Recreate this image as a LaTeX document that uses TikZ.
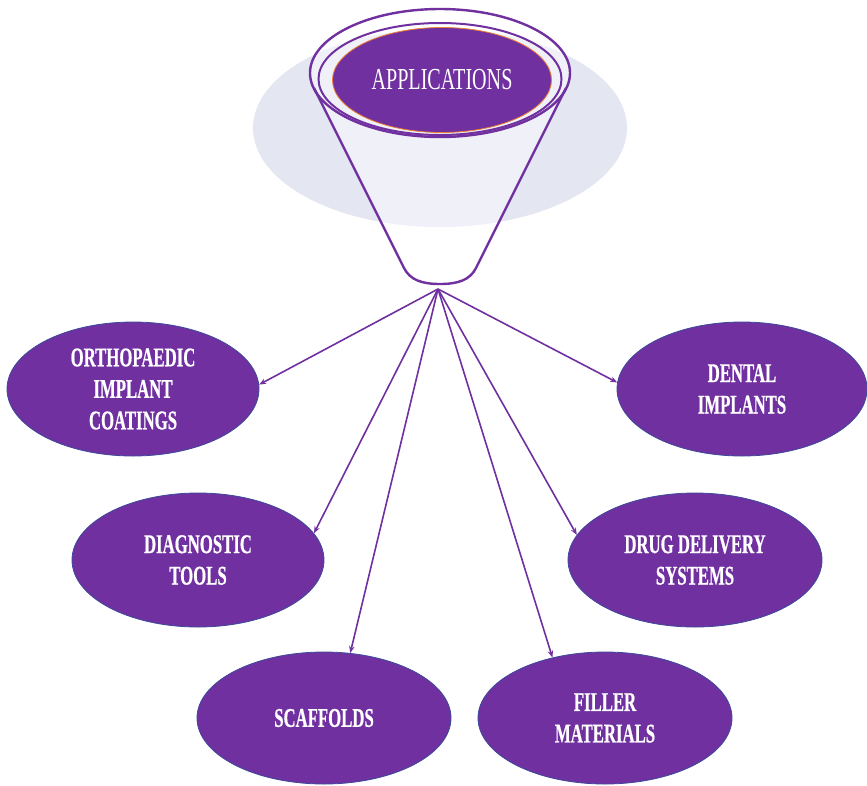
\documentclass[tikz,border=0pt]{standalone}
\usepackage{fontspec}
\newfontfamily\labfont[FakeStretch=0.62,FakeBold=0.6]{Liberation Serif Bold}
\newfontfamily\appfont[FakeStretch=0.66]{Liberation Serif}
\usetikzlibrary{shapes.geometric,arrows.meta}
\definecolor{purp}{HTML}{7030A0}
\definecolor{bgel}{HTML}{E4E6F2}
\definecolor{funl}{HTML}{EFF0F8}
\definecolor{edgeblue}{HTML}{3C4A9A}
\definecolor{orng}{HTML}{ED7D31}
\begin{document}
\begin{tikzpicture}[x=1pt,y=-1pt,
  appbox/.style={ellipse, fill=purp, draw=edgeblue, line width=0.8pt, inner sep=0pt,
    text=white, align=center, font=\labfont\fontsize{27}{31.5}\selectfont,
    minimum width=252pt, minimum height=134pt},
  conn/.style={draw=purp, line width=1.6pt, -{Stealth[length=7pt,width=5.5pt]}},
  funline/.style={draw=purp, line width=2.4pt}]
\useasboundingbox (0,0) rectangle (867,785);
% background ellipse
\fill[bgel] (440,128) ellipse [x radius=187, y radius=99];
% funnel body fill
\fill[white] (314,88) -- (404,268) .. controls (410,280) and (422,284) .. (440,284)
  .. controls (458,284) and (470,280) .. (476,268) -- (566,88) -- cycle;
\fill[white] (440,73) ellipse [x radius=130, y radius=64];
\begin{scope}
  \clip (314,88) -- (404,268) .. controls (410,280) and (422,284) .. (440,284)
  .. controls (458,284) and (470,280) .. (476,268) -- (566,88) -- cycle;
  \fill[funl] (440,128) ellipse [x radius=187, y radius=99];
\end{scope}
\begin{scope}
  \clip (440,73) ellipse [x radius=130, y radius=64];
  \fill[funl] (440,128) ellipse [x radius=187, y radius=99];
\end{scope}
% funnel outline
\draw[funline, line join=round] (314,88) -- (404,268) .. controls (410,280) and (422,284) .. (440,284)
  .. controls (458,284) and (470,280) .. (476,268) -- (566,88);
\node[ellipse, draw=purp, line width=2.4pt, inner sep=0pt, minimum width=260pt, minimum height=128pt] (rimout) at (440,73) {};
\node[ellipse, draw=purp, line width=2pt, inner sep=0pt, minimum width=243pt, minimum height=112pt] (rimin) at (440,79) {};
\node[ellipse, fill=purp, draw=orng, line width=0.8pt, inner sep=0pt, minimum width=219pt, minimum height=105pt,
  text=white, font=\appfont\fontsize{30.5}{34}\selectfont] (apps) at (442,80) {APPLICATIONS};
% application nodes
\node[appbox] (ortho) at (133,389) {ORTHOPAEDIC\\IMPLANT\\COATINGS};
\node[appbox, minimum width=250pt] (dental) at (742,389) {DENTAL\\IMPLANTS};
\node[appbox] (diag) at (198,560) {DIAGNOSTIC\\TOOLS};
\node[appbox, minimum width=254pt] (drug) at (695,560) {DRUG DELIVERY\\SYSTEMS};
\node[appbox, minimum width=254pt, minimum height=132pt] (scaf) at (324,718) {SCAFFOLDS};
\node[appbox, minimum width=254pt, minimum height=132pt] (filler) at (605,718) {FILLER\\MATERIALS};
% connectors
\coordinate (src) at (438,289);
\draw[conn] (src) -- (ortho.2);
\draw[conn] (src) -- (dental.177);
\draw[conn] (src) -- (diag.13);
\draw[conn] (src) -- (drug.168);
\draw[conn] (src) -- (scaf.68);
\draw[conn] (src) -- (filler.131);
\end{tikzpicture}
\end{document}
